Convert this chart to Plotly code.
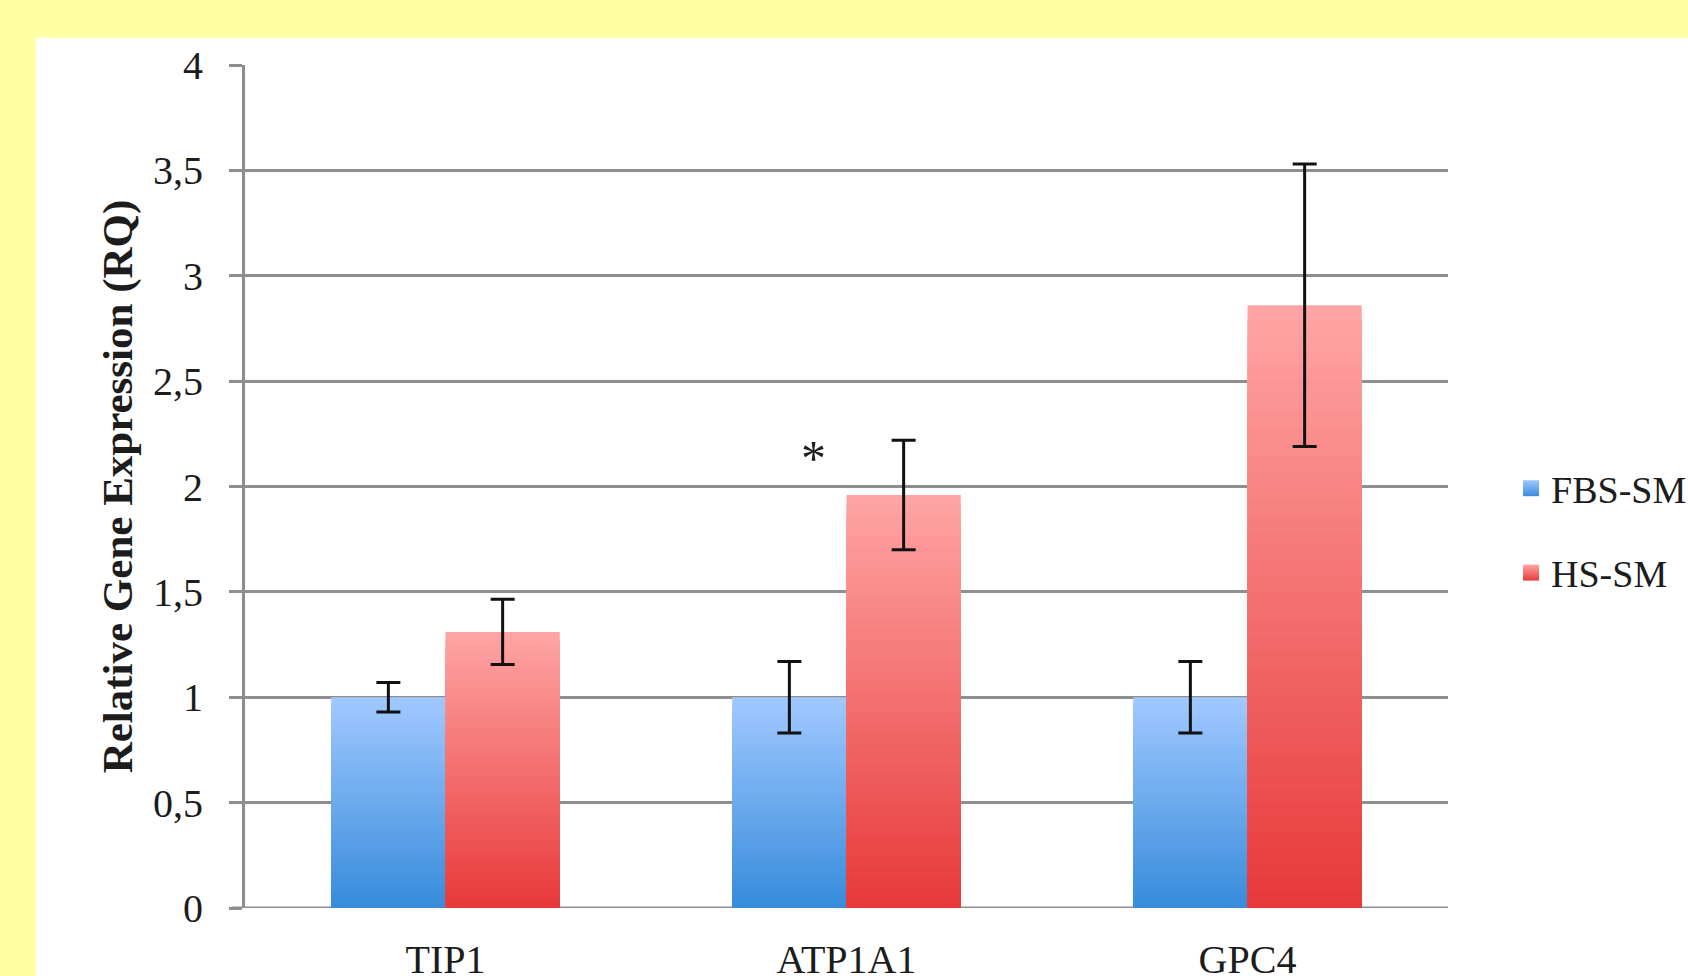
import plotly.graph_objects as go

# ---- data ----
categories = ["TIP1", "ATP1A1", "GPC4"]
series_names = ["FBS-SM", "HS-SM"]
fbs_values = [1.0, 1.0, 1.0]
fbs_errors = [0.07, 0.17, 0.17]
hs_values = [1.31, 1.96, 2.86]
hs_errors = [0.155, 0.26, 0.67]
y_tick_vals = [0, 0.5, 1, 1.5, 2, 2.5, 3, 3.5, 4]
y_tick_text = ["0", "0,5", "1", "1,5", "2", "2,5", "3", "3,5", "4"]
star_category = "ATP1A1"
star_value = 2.135

# ---- style ----
FONT = "Liberation Serif"
TXT = "#1c1c1c"
GRID = "#8e8e8e"
YELLOW = "#ffffa4"
BLUE_TOP, BLUE_BOT = (160, 200, 255), (56, 140, 220)
RED_TOP, RED_BOT = (255, 164, 164), (232, 58, 58)
N_SEG = 40
BAR_W = 0.285


def mix(c1, c2, t):
    return "rgb(%d,%d,%d)" % tuple(round(a + (b - a) * t) for a, b in zip(c1, c2))


fig = go.Figure()

specs = [
    (series_names[0], fbs_values, fbs_errors, BLUE_TOP, BLUE_BOT, -BAR_W),
    (series_names[1], hs_values, hs_errors, RED_TOP, RED_BOT, 0.0),
]

# gradient bars: overlaid bars of decreasing height, lightest first
for name, vals, errs, ctop, cbot, off in specs:
    for k in range(N_SEG):
        frac = (N_SEG - k) / N_SEG
        fig.add_trace(go.Bar(
            x=categories, y=[v * frac for v in vals],
            offset=off, width=BAR_W,
            marker=dict(color=mix(ctop, cbot, k / (N_SEG - 1)), line=dict(width=0)),
            showlegend=False, hoverinfo="skip",
        ))

# error bars on top
for name, vals, errs, ctop, cbot, off in specs:
    fig.add_trace(go.Bar(
        x=categories, y=vals, offset=off, width=BAR_W,
        marker=dict(color="rgba(0,0,0,0)", line=dict(width=0)),
        error_y=dict(type="data", array=errs, visible=True, color="#111111",
                     thickness=3, width=12),
        showlegend=False, name=name,
    ))

# legend entries
for i, (name, vals, errs, ctop, cbot, off) in enumerate(specs):
    fig.add_trace(go.Scatter(
        x=[None], y=[None], mode="markers", name=name, legendgroup=name,
        marker=dict(symbol="square", size=21, color=mix(ctop, cbot, 0.0),
                    gradient=dict(type="vertical", color=mix(ctop, cbot, 1.0)),
                    line=dict(width=0)),
    ))

fig.add_annotation(
    x=star_category, y=star_value, xref="x", yref="y", text="*", showarrow=False,
    xshift=-33, font=dict(family=FONT, size=50, color=TXT),
)

# white panel behind the chart
fig.add_shape(type="rect", xref="paper", yref="paper",
              x0=-0.174, x1=1.3, y0=-0.2, y1=1.0323,
              fillcolor="white", line=dict(width=0), layer="below")

fig.update_layout(
    width=1688, height=976,
    margin=dict(l=245, r=240, t=65, b=68, autoexpand=False),
    paper_bgcolor=YELLOW, plot_bgcolor="white",
    barmode="overlay",
    font=dict(family=FONT, color=TXT, size=40),
    legend=dict(x=1.0524, y=0.535, xanchor="left", yanchor="top",
                font=dict(family=FONT, size=38, color=TXT),
                bgcolor="rgba(0,0,0,0)", tracegroupgap=32,
                itemsizing="trace"),
)
fig.update_yaxes(
    range=[0, 4], tickvals=y_tick_vals, ticktext=y_tick_text,
    showgrid=True, gridcolor=GRID, gridwidth=3,
    showline=True, linecolor=GRID, linewidth=3,
    ticks="outside", ticklen=13, tickcolor=GRID, tickwidth=3,
    ticklabelstandoff=18, automargin=False,
    zeroline=False,
    tickfont=dict(family=FONT, size=40, color=TXT),
    title=dict(text="<b>Relative Gene Expression (RQ)</b>",
               font=dict(family=FONT, size=43, color=TXT), standoff=7),
)
fig.update_xaxes(
    showline=False, showgrid=False, ticks="", automargin=False,
    tickfont=dict(family=FONT, size=40, color=TXT),
    ticklabelstandoff=24,
)
# baseline line at 0 (ticked to the left like the grid)
fig.add_shape(type="line", xref="paper", yref="y", x0=-0.011, x1=1, y0=0, y1=0,
              line=dict(color=GRID, width=3), layer="below")

fig.write_html(
    "out.html",
    config={"displayModeBar": False},
    post_script="document.body.style.margin='0';document.body.style.overflow='hidden';",
)
